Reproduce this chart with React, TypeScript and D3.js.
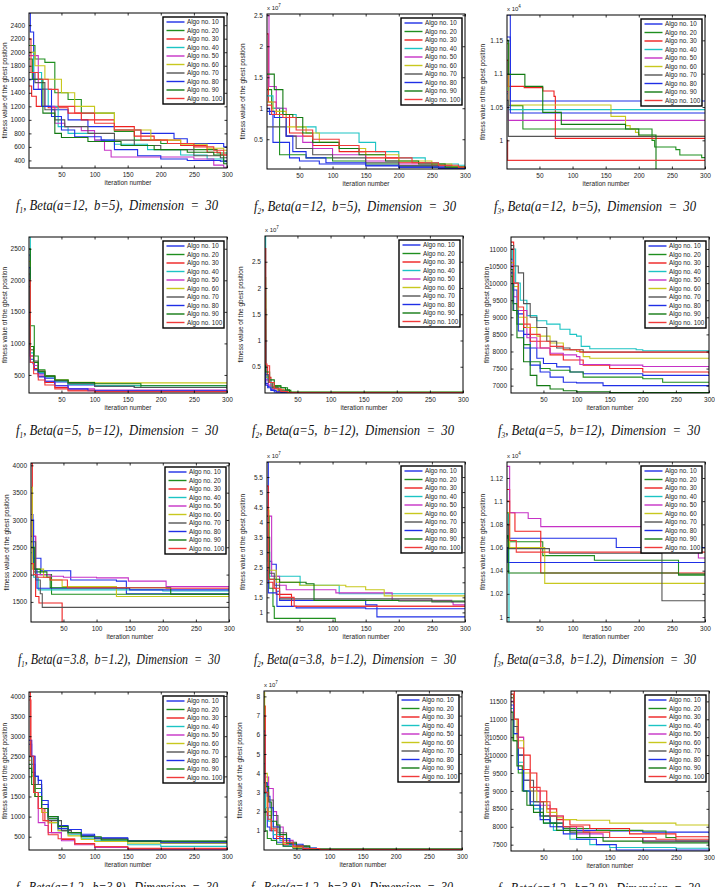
import * as d3 from 'd3';
import React, { useRef, useEffect } from 'react';

// one name per line in every legend
const algoNames = ['Algo no. 10', 'Algo no. 20', 'Algo no. 30', 'Algo no. 40', 'Algo no. 50',
  'Algo no. 60', 'Algo no. 70', 'Algo no. 80', 'Algo no. 90', 'Algo no. 100'];
const algoColors = ['#1f2fe6', '#1f8f1f', '#ee2020', '#1cc4c4', '#c632c6', '#c8c81e', '#555555',
  '#1f2fe6', '#137a13', '#f03a3a'];
const iterTicks = [50, 100, 150, 200, 250, 300];

const captions = ['Beta(a=12,  b=5),  Dimension  =  30', 'Beta(a=5,  b=12),  Dimension  =  30',
  'Beta(a=3.8,  b=1.2),  Dimension  =  30', 'Beta(a=1.2,  b=3.8),  Dimension  =  30'];

// [iteration, best fitness] break points of each stair curve
const f1_a12_b5 = [
  [[1, 2580], [3, 2300], [8, 1600], [20, 1450], [35, 1150], [60, 1000], [90, 900], [130, 850], [170, 800], [220, 720], [240, 650], [295, 600]],
  [[1, 2100], [10, 1900], [25, 1850], [40, 1400], [60, 1300], [80, 1100], [130, 830], [160, 700], [200, 650], [250, 560], [285, 510]],
  [[1, 1500], [5, 1350], [12, 1200], [30, 1180], [60, 1100], [80, 1000], [130, 900], [160, 760], [190, 700], [230, 620], [270, 520], [290, 480]],
  [[1, 2000], [8, 1700], [20, 1450], [30, 1200], [45, 900], [60, 800], [100, 700], [130, 640], [180, 560], [230, 480], [270, 420], [295, 380]],
  [[1, 1950], [15, 1450], [25, 1200], [40, 950], [55, 900], [80, 840], [100, 700], [115, 550], [125, 450], [250, 420], [280, 330], [295, 300]],
  [[1, 2000], [10, 1800], [25, 1600], [50, 1400], [70, 1200], [100, 1100], [130, 850], [185, 700], [230, 640], [270, 580], [295, 550]],
  [[1, 1700], [10, 1550], [25, 1150], [40, 1000], [55, 900], [90, 800], [130, 700], [160, 620], [200, 560], [250, 470], [290, 440]],
  [[1, 1600], [8, 1450], [20, 1200], [35, 1050], [50, 850], [70, 750], [110, 700], [130, 560], [165, 470], [200, 420], [240, 400], [290, 390]],
  [[1, 1900], [6, 1600], [22, 1100], [40, 800], [50, 740], [90, 680], [140, 620], [190, 560], [240, 520], [280, 480], [295, 350]],
  [[1, 2200], [4, 1700], [15, 1600], [30, 1450], [45, 1200], [70, 1100], [100, 950], [130, 850], [170, 700], [210, 650], [250, 600], [280, 550], [295, 480]],
];
const f2_a12_b5 = [
  [[1, 1.0], [5, 0.9], [10, 0.45], [35, 0.2], [50, 0.15], [80, 0.1], [150, 0.07], [200, 0.05], [260, 0.03]],
  [[1, 1.3], [8, 1.0], [20, 0.25], [60, 0.2], [100, 0.15], [150, 0.1], [200, 0.07], [250, 0.05], [290, 0.05]],
  [[1, 2.2], [3, 1.1], [15, 0.9], [35, 0.6], [55, 0.55], [70, 0.4], [110, 0.3], [150, 0.2], [200, 0.12], [250, 0.08], [280, 0.05]],
  [[1, 1.2], [10, 1.0], [25, 0.9], [45, 0.7], [75, 0.6], [140, 0.45], [165, 0.3], [200, 0.2], [240, 0.12], [260, 0.1], [290, 0.08]],
  [[1, 2.5], [4, 1.35], [15, 1.0], [30, 0.55], [55, 0.45], [70, 0.35], [100, 0.25], [150, 0.15], [200, 0.1], [260, 0.05]],
  [[1, 1.1], [10, 0.95], [30, 0.7], [60, 0.6], [80, 0.45], [110, 0.35], [150, 0.25], [200, 0.15], [250, 0.1], [280, 0.06]],
  [[1, 0.7], [20, 0.7], [30, 0.55], [45, 0.35], [70, 0.25], [100, 0.2], [150, 0.12], [200, 0.07], [260, 0.04]],
  [[1, 0.95], [12, 0.85], [30, 0.55], [40, 0.3], [60, 0.2], [90, 0.12], [150, 0.08], [200, 0.05], [270, 0.02]],
  [[1, 1.55], [12, 1.3], [25, 0.9], [40, 0.85], [55, 0.6], [70, 0.45], [110, 0.35], [140, 0.25], [180, 0.15], [230, 0.1], [270, 0.05]],
  [[1, 1.05], [8, 0.9], [25, 0.85], [45, 0.65], [70, 0.5], [110, 0.4], [140, 0.3], [180, 0.2], [220, 0.12], [260, 0.08], [290, 0.05]],
];
const f3_a12_b5 = [
  [[1, 1.188], [6, 1.059]],
  [[1, 1.12], [3, 1.052], [25, 1.017], [220, 1.0], [224, 0.99], [256, 0.986], [262, 0.978], [295, 0.974]],
  [[1, 1.12], [3, 1.081], [27, 1.079], [55, 1.074], [72, 1.066], [74, 1.003]],
  [[1, 1.07], [3, 1.046]],
  [[1, 1.073], [3, 1.03]],
  [[1, 1.145], [4, 1.053], [158, 1.036], [180, 1.022], [187, 1.017], [195, 1.012], [200, 1.006]],
  [[1, 1.06], [3, 1.006]],
  [[1, 1.155], [6, 1.041]],
  [[1, 1.15], [3, 1.099], [28, 1.081], [55, 1.042], [83, 1.024], [180, 1.017], [200, 1.008], [226, 0.95]],
  [[1, 1.0], [2, 0.97]],
];
const f1_a5_b12 = [
  [[1, 2400], [3, 700], [7, 680], [9, 600], [15, 520], [25, 450], [40, 390], [60, 340], [100, 320], [160, 300], [300, 295]],
  [[1, 2100], [3, 1280], [8, 1280], [9, 800], [15, 580], [25, 490], [40, 420], [60, 370], [100, 330], [170, 300], [300, 280]],
  [[1, 2100], [3, 800], [8, 600], [15, 480], [25, 380], [40, 300], [60, 260], [100, 240], [300, 230]],
  [[1, 2686], [3, 850], [8, 650], [15, 540], [25, 470], [40, 400], [60, 350], [100, 330], [300, 320]],
  [[1, 2000], [3, 800], [8, 650], [15, 500], [25, 400], [40, 330], [60, 280], [100, 260], [300, 255]],
  [[1, 2300], [3, 900], [8, 700], [15, 560], [25, 480], [40, 420], [60, 385], [100, 375], [300, 370]],
  [[1, 1900], [3, 900], [8, 720], [15, 560], [25, 480], [40, 410], [60, 360], [100, 320], [160, 300], [300, 290]],
  [[1, 2200], [3, 750], [8, 580], [15, 470], [25, 400], [40, 330], [60, 280], [90, 250], [300, 245]],
  [[1, 2500], [3, 950], [8, 700], [15, 550], [25, 480], [40, 420], [60, 380], [100, 360], [170, 330], [300, 300]],
  [[1, 2000], [3, 700], [8, 520], [15, 420], [25, 340], [40, 280], [60, 245], [100, 235], [300, 225]],
];
const f2_a5_b12 = [
  [[1, 1.2], [2, 0.18], [6, 0.12], [10, 0.06], [15, 0.02], [25, 0.01], [40, 0.003]],
  [[1, 2.0], [2, 0.3], [8, 0.2], [15, 0.14], [25, 0.1], [35, 0.05], [40, 0.01]],
  [[1, 2.75], [2, 0.5], [5, 0.3], [10, 0.12], [20, 0.06], [30, 0.02], [40, 0.005]],
  [[1, 2.99], [2, 0.35], [5, 0.25], [10, 0.1], [20, 0.04], [35, 0.01]],
  [[1, 1.5], [2, 0.25], [6, 0.15], [12, 0.08], [20, 0.03], [30, 0.01]],
  [[1, 1.8], [2, 0.3], [7, 0.2], [12, 0.1], [20, 0.05], [30, 0.015]],
  [[1, 1.6], [2, 0.35], [6, 0.2], [12, 0.1], [22, 0.04], [35, 0.01]],
  [[1, 1.0], [2, 0.15], [5, 0.1], [10, 0.05], [18, 0.02], [30, 0.005]],
  [[1, 2.2], [2, 0.4], [8, 0.25], [15, 0.12], [25, 0.1], [32, 0.06], [38, 0.02]],
  [[1, 2.75], [2, 0.55], [4, 0.52], [8, 0.2], [15, 0.08], [25, 0.03], [35, 0.01]],
];
const f3_a5_b12 = [
  [[1, 10700], [4, 9800], [10, 9100], [20, 8500], [30, 8100], [40, 7800], [50, 7650], [70, 7550], [90, 7400], [110, 7350], [200, 7300], [300, 7290]],
  [[1, 10200], [4, 9400], [10, 8800], [20, 8200], [30, 7700], [45, 7500], [60, 7450], [90, 7400], [110, 7250], [200, 7200], [230, 7100]],
  [[1, 11200], [5, 10000], [12, 9200], [20, 8700], [30, 8300], [45, 8100], [60, 7900], [80, 7750], [110, 7600], [150, 7500], [200, 7400], [300, 7350]],
  [[1, 10700], [3, 11000], [8, 10000], [15, 9500], [25, 9050], [40, 8900], [55, 8800], [75, 8650], [90, 8500], [100, 8450], [107, 8150], [120, 8080], [190, 8050], [200, 8020], [300, 8000]],
  [[1, 10500], [5, 9600], [12, 9200], [25, 8400], [40, 8100], [60, 7950], [80, 7900], [100, 7850], [105, 7620], [150, 7600], [200, 7560], [300, 7530]],
  [[1, 10600], [5, 9900], [12, 9000], [25, 8700], [40, 8450], [60, 8250], [80, 8050], [100, 8000], [110, 7850], [120, 7800], [300, 7790]],
  [[1, 11100], [5, 10500], [12, 10300], [20, 9400], [30, 9000], [40, 8700], [55, 8300], [70, 8100], [90, 8050], [110, 7980], [300, 7960]],
  [[1, 10300], [5, 9200], [12, 8600], [20, 8100], [30, 7600], [45, 7400], [60, 7250], [80, 7100], [100, 7080], [140, 7000], [300, 6990]],
  [[1, 10400], [4, 9200], [10, 8400], [20, 7700], [30, 7300], [40, 7000], [60, 6900], [80, 6850], [100, 6820], [150, 6800], [300, 6790]],
  [[1, 11000], [5, 10000], [12, 9300], [20, 8800], [30, 8500], [45, 8300], [60, 8150], [80, 8050], [105, 7980], [300, 7930]],
];
const f1_a38_b12 = [
  [[1, 3100], [4, 2300], [16, 2070], [61, 1900], [130, 1880], [145, 1650]],
  [[1, 2600], [5, 2050], [15, 2000], [32, 1640]],
  [[1, 4040], [3, 2700], [8, 1600], [13, 1480], [48, 1100]],
  [[1, 2400], [5, 1950], [12, 1720], [200, 1700]],
  [[1, 2700], [8, 2000], [30, 1970], [50, 1950], [100, 1940], [148, 1880], [205, 1780]],
  [[1, 3600], [3, 2100], [20, 1950], [30, 1900], [48, 1780], [130, 1600]],
  [[1, 2600], [8, 1900], [15, 1650], [18, 1400]],
  [[1, 3000], [5, 2100], [10, 1750], [150, 1720]],
  [[1, 2500], [6, 2100], [15, 2050], [25, 1950], [30, 1760], [212, 1640]],
  [[1, 2200], [5, 2000], [10, 1950], [30, 1900], [56, 1760], [205, 1750]],
];
const f2_a38_b12 = [
  [[1, 5.99], [3, 2.7], [8, 2.6], [15, 1.7], [20, 1.4], [120, 1.4], [150, 1.25], [167, 0.85]],
  [[1, 3.5], [4, 1.8], [10, 1.2], [12, 0.8], [104, 0.6]],
  [[1, 5.2], [3, 2.0], [10, 1.8], [15, 1.6], [38, 1.2]],
  [[1, 3.0], [5, 2.2], [51, 1.9], [110, 1.62], [300, 1.6]],
  [[1, 4.2], [8, 2.2], [20, 1.9], [30, 1.75], [105, 1.65], [190, 1.4], [280, 1.35], [282, 1.25]],
  [[1, 4.4], [4, 2.4], [15, 2.0], [50, 1.9], [120, 1.85], [150, 1.75], [178, 1.55], [300, 1.4]],
  [[1, 3.5], [5, 2.3], [12, 1.9], [20, 1.45], [250, 1.35]],
  [[1, 2.4], [3, 1.65], [16, 1.2], [45, 1.15], [150, 1.12], [300, 1.1]],
  [[1, 4.2], [4, 2.1], [20, 2.0], [60, 1.95], [72, 1.4], [200, 1.38], [300, 1.35]],
  [[1, 4.5], [3, 2.1], [12, 1.8], [20, 1.5], [42, 1.2]],
];
const f3_a38_b12 = [
  [[1, 1.07], [2, 1.068], [166, 1.06]],
  [[1, 1.09], [3, 1.065], [55, 1.053], [133, 1.049], [260, 1.036]],
  [[1, 1.11], [5, 1.09], [13, 1.074], [52, 1.038]],
  [[1, 1.09], [4, 0.99]],
  [[1, 1.13], [5, 1.09], [33, 1.085], [52, 1.078], [290, 1.051]],
  [[1, 1.09], [5, 1.06], [58, 1.029]],
  [[1, 1.08], [3, 1.059], [65, 1.055], [235, 1.014]],
  [[1, 1.06], [2, 1.047]],
  [[1, 1.07], [3, 1.038], [260, 1.037]],
  [[1, 1.1], [5, 1.066], [15, 1.056]],
];
const f1_a12_b38 = [
  [[1, 2800], [5, 2300], [10, 2000], [15, 1800], [20, 1300], [30, 950], [45, 780], [60, 680], [80, 560], [100, 460], [150, 380], [200, 330], [300, 320]],
  [[1, 2300], [5, 2000], [10, 1700], [20, 1200], [30, 950], [45, 700], [60, 600], [80, 520], [100, 450], [150, 400], [200, 385], [300, 380]],
  [[1, 4100], [3, 2500], [8, 1600], [15, 1200], [25, 900], [35, 600], [50, 430], [70, 330], [100, 250], [150, 200], [300, 190]],
  [[1, 2500], [5, 2000], [10, 1600], [20, 1100], [30, 850], [45, 650], [60, 550], [80, 460], [100, 400], [150, 300], [200, 260], [300, 250]],
  [[1, 2900], [5, 2500], [10, 1500], [15, 850], [25, 780], [30, 600], [50, 400], [70, 300], [100, 230], [150, 190], [300, 180]],
  [[1, 2400], [5, 2000], [10, 1500], [20, 1100], [30, 850], [45, 650], [60, 520], [80, 430], [100, 380], [150, 340], [300, 310]],
  [[1, 2500], [5, 2100], [10, 1800], [20, 1200], [30, 900], [50, 650], [65, 600], [80, 520], [100, 450], [150, 400], [200, 370], [300, 350]],
  [[1, 2900], [5, 2500], [10, 2000], [15, 1900], [20, 1400], [30, 1000], [45, 700], [60, 600], [80, 520], [100, 470], [150, 400], [200, 360], [300, 350]],
  [[1, 2200], [5, 1800], [10, 1500], [20, 1200], [30, 1000], [45, 750], [60, 600], [80, 500], [110, 420], [150, 390], [300, 380]],
  [[1, 3900], [4, 2500], [8, 1600], [15, 1200], [22, 900], [30, 550], [45, 450], [70, 320], [100, 250], [150, 210], [300, 200]],
];
const f2_a12_b38 = [
  [[1, 5.5], [3, 2.0], [6, 1.2], [10, 1.0], [15, 0.6], [20, 0.4], [30, 0.2], [45, 0.1], [60, 0.03], [80, 0.01]],
  [[1, 3.0], [3, 1.0], [6, 0.6], [12, 0.5], [20, 0.3], [30, 0.2], [45, 0.1], [60, 0.05], [80, 0.01]],
  [[1, 7.5], [3, 3.5], [6, 1.8], [12, 1.0], [20, 0.6], [30, 0.3], [45, 0.15], [60, 0.05], [85, 0.01]],
  [[1, 4.0], [3, 2.2], [8, 1.5], [15, 0.8], [25, 0.5], [40, 0.25], [60, 0.1], [80, 0.02]],
  [[1, 6.0], [3, 3.8], [8, 3.2], [15, 2.0], [20, 1.2], [30, 0.5], [45, 0.2], [65, 0.05], [85, 0.01]],
  [[1, 8.2], [2, 4.0], [6, 2.0], [12, 1.2], [20, 0.7], [30, 0.35], [45, 0.15], [70, 0.04]],
  [[1, 4.5], [3, 3.0], [8, 2.6], [15, 1.8], [22, 0.9], [35, 0.4], [50, 0.2], [70, 0.05]],
  [[1, 6.2], [3, 3.5], [6, 2.8], [10, 2.2], [15, 1.2], [25, 0.6], [40, 0.3], [60, 0.1], [80, 0.02]],
  [[1, 3.5], [4, 3.3], [8, 2.5], [12, 1.5], [20, 1.3], [25, 0.8], [35, 0.35], [50, 0.2], [70, 0.05]],
  [[1, 7.0], [3, 3.0], [7, 1.6], [12, 1.1], [20, 0.7], [30, 0.4], [45, 0.2], [60, 0.08], [85, 0.02]],
];
const f3_a12_b38 = [
  [[1, 11700], [5, 11000], [12, 10000], [20, 9300], [30, 8700], [45, 8300], [60, 8100], [80, 7950], [100, 7900], [150, 7880], [200, 7850], [300, 7820]],
  [[1, 11700], [5, 10400], [12, 9500], [20, 9000], [30, 8600], [45, 8300], [60, 8100], [80, 7950], [130, 7900], [200, 7880], [235, 7700], [250, 7600], [300, 7550]],
  [[1, 11800], [6, 11000], [12, 10500], [20, 10000], [30, 9500], [40, 9000], [55, 8500], [70, 8200], [90, 8050], [120, 7950], [180, 7800], [250, 7720], [300, 7700]],
  [[1, 11300], [5, 10600], [12, 9800], [20, 9000], [35, 8500], [50, 8100], [65, 7900], [90, 7650], [120, 7500], [150, 7420], [250, 7400], [300, 7390]],
  [[1, 11500], [5, 10800], [10, 10500], [20, 9600], [30, 9000], [45, 8600], [60, 8300], [80, 8000], [100, 7800], [140, 7700], [200, 7600], [300, 7500]],
  [[1, 11600], [5, 11000], [10, 10400], [20, 9500], [30, 9000], [40, 8700], [55, 8400], [70, 8250], [80, 8200], [100, 8180], [150, 8100], [250, 8050], [300, 8000]],
  [[1, 11600], [5, 10800], [12, 10000], [20, 9300], [35, 8700], [50, 8300], [70, 8000], [90, 7850], [120, 7700], [200, 7600], [300, 7560]],
  [[1, 11400], [5, 10600], [12, 9600], [20, 9000], [30, 8600], [45, 8200], [60, 8000], [80, 7800], [100, 7650], [130, 7500], [160, 7350], [300, 7330]],
  [[1, 11200], [4, 10400], [10, 9700], [18, 9000], [25, 8600], [35, 8400], [50, 8100], [70, 7900], [100, 7700], [140, 7600], [200, 7550], [300, 7450]],
  [[1, 11700], [6, 11000], [12, 10200], [20, 9600], [30, 9100], [45, 8700], [60, 8300], [80, 8000], [110, 7850], [150, 7700], [220, 7650], [300, 7650]],
];

// y ranges (axis tight) and ticks, in the units the axis shows
const yDomains = [[288, 2580], [0.02, 2.52], [0.957, 1.188],
  [214, 2686], [0, 2.99], [6785, 11350],
  [1132, 4043], [0.68, 6.0], [0.9957, 1.1338],
  [169, 4099], [0, 8.28], [7323, 11790]];
const yTicks = [
  [400, 600, 800, 1000, 1200, 1400, 1600, 1800, 2000, 2200, 2400],
  [0.5, 1, 1.5, 2, 2.5],
  [1, 1.05, 1.1, 1.15],
  [500, 1000, 1500, 2000, 2500],
  [0.5, 1, 1.5, 2, 2.5],
  [7000, 7500, 8000, 8500, 9000, 9500, 10000, 10500, 11000],
  [1500, 2000, 2500, 3000, 3500, 4000],
  [1, 1.5, 2, 2.5, 3, 3.5, 4, 4.5, 5, 5.5],
  [1, 1.02, 1.04, 1.06, 1.08, 1.1, 1.12],
  [500, 1000, 1500, 2000, 2500, 3000, 3500, 4000],
  [1, 2, 3, 4, 5, 6, 7, 8],
  [7500, 8000, 8500, 9000, 9500, 10000, 10500, 11000, 11500]];
const yExponents = [0, 7, 4, 0, 7, 0, 0, 7, 4, 0, 7, 0];
const panelSeries = [f1_a12_b5, f2_a12_b5, f3_a12_b5, f1_a5_b12, f2_a5_b12, f3_a5_b12,
  f1_a38_b12, f2_a38_b12, f3_a38_b12, f1_a12_b38, f2_a12_b38, f3_a12_b38];

// plot box placement: [left, top, height]
const layout = [[29, 13, 155], [267, 14, 155], [507, 15, 154],
  [29, 237, 156], [265, 236, 157], [511, 237, 156],
  [31, 463, 159], [267, 462, 160], [507, 462, 160],
  [29, 692, 158], [264, 691, 159], [511, 691, 160]];
const plotW = 198;

const Chart = () => {
  const svgRef = useRef<SVGSVGElement>(null);
  useEffect(() => {
    draw();
  }, []);

  const draw = () => {
    const svg = d3.select(svgRef.current);
    svg.selectAll('*').remove();
    const sans = 'Arial, "Liberation Sans", Helvetica, sans-serif';

    panelSeries.forEach((series, i) => {
      const [left, top, h] = layout[i];
      const w = plotW;
      const row = Math.floor(i / 3);
      const fIdx = (i % 3) + 1;

      const x = d3.scaleLinear().domain([1, 300]).range([0, w]);
      const y = d3.scaleLinear().domain(yDomains[i]).range([h, 0]);
      const g = svg.append('g').attr('transform', `translate(${left},${top})`);

      g.append('rect').attr('width', w).attr('height', h).attr('fill', '#fff');

      const clipId = `clip${i}`;
      g.append('clipPath').attr('id', clipId)
        .append('rect').attr('width', w).attr('height', h);

      const line = d3.line<number[]>()
        .x((d) => x(d[0]))
        .y((d) => y(d[1]))
        .curve(d3.curveStepAfter);

      const lines = g.append('g').attr('clip-path', `url(#${clipId})`);
      series.forEach((pts, k) => {
        const last = pts[pts.length - 1];
        const full = last[0] < 300 ? [...pts, [300, last[1]]] : pts;
        lines.append('path')
          .attr('d', line(full))
          .attr('fill', 'none')
          .attr('stroke', algoColors[k])
          .attr('stroke-width', 1.1);
      });

      const fmt = (d: d3.NumberValue) => String(+(+d).toFixed(3));
      const styleAxis = (a: d3.Selection<SVGGElement, unknown, null, undefined>) => {
        a.select('.domain').remove();
        a.selectAll('line').attr('stroke', '#000').attr('stroke-width', 0.8);
        a.selectAll('text').attr('font-family', sans).attr('font-size', 6.5).attr('fill', '#222');
      };

      g.append('g').call(d3.axisLeft(y).tickValues(yTicks[i]).tickSize(-2.5).tickPadding(4).tickFormat(fmt)).call(styleAxis);
      g.append('g').attr('transform', `translate(${w},0)`)
        .call(d3.axisRight(y).tickValues(yTicks[i]).tickSize(-2.5).tickFormat(() => '')).call(styleAxis);
      g.append('g').attr('transform', `translate(0,${h})`)
        .call(d3.axisBottom(x).tickValues(iterTicks).tickSize(-2.5).tickPadding(4).tickFormat(fmt)).call(styleAxis);
      g.append('g')
        .call(d3.axisTop(x).tickValues(iterTicks).tickSize(-2.5).tickFormat(() => '')).call(styleAxis);

      g.append('rect').attr('width', w).attr('height', h)
        .attr('fill', 'none').attr('stroke', '#000').attr('stroke-width', 1);

      if (yExponents[i]) {
        const t = g.append('text').attr('x', 0).attr('y', -4)
          .attr('font-family', sans).attr('font-size', 6).attr('fill', '#222');
        t.append('tspan').text('x 10');
        t.append('tspan').attr('font-size', 4.5).attr('dy', -3).text(String(yExponents[i]));
      }

      g.append('text')
        .attr('x', w / 2).attr('y', h + 17)
        .attr('text-anchor', 'middle')
        .attr('font-family', sans).attr('font-size', 6.5).attr('fill', '#222')
        .text('iteration number');

      g.append('text')
        .attr('transform', `translate(${-22},${h / 2}) rotate(-90)`)
        .attr('text-anchor', 'middle')
        .attr('font-family', sans).attr('font-size', 6.5).attr('fill', '#222')
        .text('fitness value of the gbest position');

      // legend box
      const lw = 61, lh = 87;
      const lg = g.append('g').attr('transform', `translate(${w - 3 - lw},4)`);
      lg.append('rect').attr('width', lw).attr('height', lh)
        .attr('fill', '#fff').attr('stroke', '#000').attr('stroke-width', 1.4);
      algoNames.forEach((name, k) => {
        const ly = 5 + k * 8.5;
        lg.append('line').attr('x1', 3.5).attr('x2', 21.5).attr('y1', ly).attr('y2', ly)
          .attr('stroke', algoColors[k]).attr('stroke-width', 1.4);
        lg.append('text').attr('x', 24).attr('y', ly).attr('dy', '0.35em')
          .attr('font-family', sans).attr('font-size', 6.3).attr('fill', '#222')
          .text(name);
      });

      // caption squeezed to the width it has in the figure
      const cap = g.append('text')
        .attr('x', w / 2 - 112).attr('y', h + 42)
        .attr('textLength', 202).attr('lengthAdjust', 'spacingAndGlyphs')
        .attr('font-family', '"Liberation Serif", "Times New Roman", serif')
        .attr('font-style', 'italic').attr('font-size', 14).attr('fill', '#111')
        .style('white-space', 'pre');
      cap.append('tspan').text('f');
      cap.append('tspan').attr('font-size', 8).attr('dy', 3).text(String(fIdx));
      cap.append('tspan').attr('dy', -3).text(', ' + captions[row]);
    });
  };

  return <svg ref={svgRef} width={715} height={887} style={{ position: 'absolute', left: 0, top: 0, background: '#fff' }} />;
};

export default function App() {
  return <Chart />;
}
